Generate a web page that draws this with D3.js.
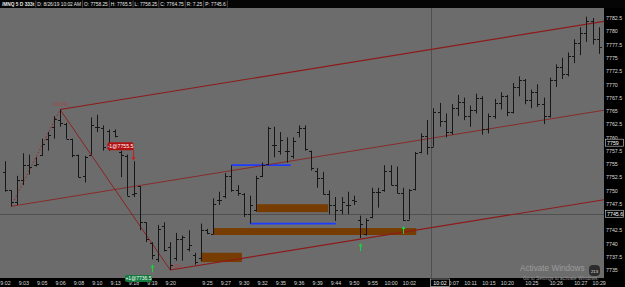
<!DOCTYPE html>
<html>
<head>
<meta charset="utf-8">
<script src="https://cdn.jsdelivr.net/npm/d3@7"></script>
<style>
  body { margin: 0; background: #000; }
  svg { display: block; font-family: "Liberation Sans", "DejaVu Sans", sans-serif; }
</style>
</head>
<body>
<svg id="chart" width="625" height="287"></svg>
<script>
// bar data (one entry per bar, 333 tick bars)
const opens = [
  7753.5, 7750.0, 7747.75, 7752.0, 7754.75, 7754.75, 7756.75, 7759.75, 7762.0, 7763.25,
  7762.5, 7759.75, 7756.75, 7752.75, 7756.75, 7762.0, 7761.75, 7761.25, 7761.25, 7757.25,
  7756.5, 7749.25, 7750.75, 7744.0, 7740.0, 7737.0, 7743.25, 7739.25, 7737.25, 7740.75,
  7739.0, 7737.75, 7737.25, 7742.5, 7741.75, 7748.25, 7749.0, 7752.75, 7750.0, 7749.25,
  7745.5, 7746.25, 7752.75, 7755.0, 7758.5, 7757.5, 7757.5, 7756.5, 7761.0, 7761.75,
  7757.5, 7753.75, 7752.25, 7749.25, 7747.25, 7746.25, 7747.25, 7748.25, 7744.5, 7741.75,
  7745.0, 7749.75, 7750.0, 7753.75, 7751.0, 7749.5, 7744.5, 7750.25, 7757.25, 7760.25,
  7758.25, 7764.75, 7763.0, 7761.0, 7765.5, 7766.75, 7764.0, 7765.25, 7767.5, 7761.5,
  7764.0, 7766.5, 7767.75, 7764.75, 7769.5, 7770.75, 7767.0, 7768.5, 7766.25, 7764.0,
  7770.75, 7773.25, 7772.0, 7775.25, 7777.75, 7779.75, 7782.0, 7778.5
];
const highs = [
  7755.5, 7750.0, 7752.75, 7757.0, 7756.75, 7756.25, 7759.75, 7761.0, 7764.0, 7765.25,
  7762.75, 7759.75, 7756.75, 7756.5, 7763.75, 7764.25, 7762.25, 7761.5, 7761.5, 7757.5,
  7756.75, 7755.5, 7750.75, 7744.0, 7740.25, 7743.5, 7744.0, 7740.25, 7742.0, 7741.5,
  7742.5, 7738.25, 7743.75, 7742.75, 7748.5, 7749.75, 7753.25, 7754.75, 7751.0, 7749.5,
  7749.0, 7752.75, 7755.25, 7762.0, 7762.0, 7761.0, 7760.0, 7760.0, 7762.25, 7762.25,
  7757.5, 7754.25, 7753.5, 7750.0, 7748.75, 7748.75, 7749.75, 7749.0, 7745.25, 7744.75,
  7750.5, 7750.5, 7754.75, 7754.75, 7754.5, 7750.5, 7750.25, 7757.25, 7760.75, 7763.25,
  7765.5, 7766.5, 7764.5, 7766.25, 7768.0, 7767.5, 7766.0, 7768.25, 7767.75, 7764.5,
  7767.25, 7768.5, 7768.0, 7770.25, 7771.5, 7771.0, 7769.0, 7770.0, 7767.5, 7771.25,
  7773.75, 7775.0, 7776.0, 7778.5, 7780.75, 7782.75, 7782.5, 7780.75
];
const lows = [
  7749.75, 7747.0, 7747.25, 7751.0, 7753.0, 7754.5, 7756.5, 7757.5, 7759.75, 7762.0,
  7759.75, 7756.25, 7752.5, 7751.5, 7756.75, 7761.0, 7757.5, 7757.5, 7760.0, 7752.5,
  7749.0, 7748.75, 7742.5, 7740.25, 7737.0, 7736.5, 7738.5, 7735.0, 7736.75, 7736.75,
  7738.5, 7736.0, 7736.75, 7741.75, 7741.75, 7747.25, 7748.5, 7749.75, 7749.0, 7745.0,
  7743.75, 7746.0, 7752.5, 7754.75, 7756.25, 7756.75, 7755.25, 7756.0, 7760.0, 7757.5,
  7753.75, 7750.5, 7749.25, 7745.5, 7744.25, 7745.5, 7745.5, 7747.25, 7741.0, 7741.5,
  7744.75, 7746.75, 7749.75, 7751.0, 7749.5, 7744.25, 7744.5, 7750.0, 7757.0, 7756.75,
  7758.25, 7762.0, 7760.0, 7760.5, 7764.0, 7763.25, 7762.0, 7764.5, 7760.5, 7760.75,
  7763.5, 7765.25, 7764.0, 7764.5, 7767.75, 7766.25, 7765.5, 7765.75, 7762.5, 7763.75,
  7769.5, 7771.0, 7771.5, 7774.0, 7775.5, 7778.0, 7777.5, 7775.75
];
const closes = [
  7750.0, 7747.75, 7752.0, 7754.75, 7754.5, 7755.0, 7758.75, 7760.5, 7763.5, 7762.75,
  7759.75, 7756.75, 7752.5, 7756.25, 7762.25, 7762.0, 7758.25, 7758.5, 7760.25, 7756.75,
  7749.0, 7749.5, 7744.0, 7740.75, 7737.75, 7742.75, 7738.75, 7736.0, 7740.75, 7741.25,
  7739.75, 7736.5, 7742.5, 7742.0, 7747.5, 7748.25, 7752.75, 7750.0, 7749.5, 7745.5,
  7747.25, 7752.25, 7754.75, 7761.75, 7758.5, 7759.5, 7757.5, 7759.25, 7761.75, 7757.75,
  7754.25, 7752.25, 7749.25, 7747.25, 7746.25, 7747.75, 7747.25, 7748.0, 7743.75, 7744.5,
  7749.75, 7749.75, 7753.75, 7751.0, 7749.5, 7744.5, 7750.0, 7757.0, 7760.25, 7758.25,
  7764.75, 7763.0, 7761.0, 7765.5, 7766.75, 7764.0, 7765.25, 7767.5, 7761.5, 7764.0,
  7766.5, 7767.75, 7764.75, 7769.5, 7770.75, 7767.0, 7768.5, 7766.25, 7764.0, 7770.75,
  7773.25, 7772.0, 7775.25, 7777.75, 7779.75, 7782.0, 7778.5, 7777.0
];

// axis labels
const priceTicks = d3.range(7735, 7782.6, 2.5);
const timeTickBars = [0, 3, 6, 9, 12, 15, 18, 21, 24, 27, 33, 36, 39, 42, 45, 48, 51, 54, 57, 60, 63, 66, 70, 73, 76, 79, 82, 86, 90, 94, 97];
const timeTickLabels = ["9:02", "9:03", "9:05", "9:06", "9:08", "9:10", "9:13", "9:18", "9:19", "9:20", "9:25", "9:27", "9:30", "9:32", "9:35", "9:36", "9:39", "9:44", "9:50", "9:55", "10:00", "10:02", "10:03", "10:07", "10:11", "10:15", "10:20", "10:25", "10:26", "10:27", "10:29"];

// header info
const headerItems = ["/MNQ 5 D 333t", "D: 8/26/19 10:02 AM", "O: 7758.25", "H: 7765.5", "L: 7758.25", "C: 7764.75", "R: 7.25", "P: 7745.6"];

// drawing objects
const channelSlope = 0.187;                 // points per bar
const channelAnchors = [[9, 7765.25], [1, 7747.0], [27, 7735.0]];
const fibPoints = [[1, 7747.0], [9, 7765.25], [27, 7735.0]];
const zoneStart = [32, 34, 41.2];
const zoneEnd = [38.7, 67.2, 52.8];
const zoneTop = [7738.25, 7742.9, 7747.4];
const zoneBottom = [7736.5, 7741.6, 7745.9];
const levelStart = [37, 40];
const levelEnd = [46.7, 54.1];
const levelPrice = [7754.75, 7743.75];
const buyArrowBars = [24, 58, 65];
const sellArrowBar = 21;
const crossBar = 70, crossPrice = 7745.6, crossTime = "10:02";
const markerPrice = 7759;

const W = 625, H = 287;
const plotRight = 604, plotTop = 8, plotBottom = 278;

const svg = d3.select('#chart');

// scales: x is bar index, y is price
let x = d3.scaleLinear().domain([0, 97]).range([5, 5 + 97 * 6.12]);
let y = d3.scaleLinear().domain([7735, 7782.5]).range([270, 18]);

let crossX = Math.round(x(crossBar)) - 1.5;
let crossY = Math.round(y(crossPrice)) + 0.5;

// backgrounds
svg.append('rect').attr('width', W).attr('height', H).attr('fill', '#000');
svg.append('rect').attr('x', 0).attr('y', plotTop)
    .attr('width', plotRight).attr('height', plotBottom - plotTop).attr('fill', '#6c6c6c');

svg.append('clipPath').attr('id', 'plotClip')
    .append('rect').attr('x', 0).attr('y', plotTop).attr('width', plotRight).attr('height', plotBottom - plotTop);

let plot = svg.append('g').attr('clip-path', 'url(#plotClip)');

// crosshair
plot.append('line')
    .attr('x1', 0).attr('x2', plotRight)
    .attr('y1', crossY).attr('y2', crossY)
    .attr('stroke', '#505050').attr('stroke-width', 1);
plot.append('line')
    .attr('x1', crossX).attr('x2', crossX)
    .attr('y1', plotTop).attr('y2', plotBottom)
    .attr('stroke', '#505050').attr('stroke-width', 1);

// orange zones
plot.selectAll('rect.zone')
    .data(zoneStart.map((d, i) => i))
    .join('rect')
    .attr('class', 'zone')
    .attr('x', i => x(zoneStart[i]))
    .attr('y', i => y(zoneTop[i]))
    .attr('width', i => x(zoneEnd[i]) - x(zoneStart[i]))
    .attr('height', i => y(zoneBottom[i]) - y(zoneTop[i]))
    .attr('fill', '#773c02');

// blue levels
plot.selectAll('line.level')
    .data(levelStart.map((d, i) => i))
    .join('line')
    .attr('class', 'level')
    .attr('x1', i => x(levelStart[i])).attr('x2', i => x(levelEnd[i]))
    .attr('y1', i => y(levelPrice[i])).attr('y2', i => y(levelPrice[i]))
    .attr('stroke', '#1e3cff').attr('stroke-width', 1.8);

// channel lines, extended to the right edge
let lastBar = x.invert(plotRight + 2);
plot.selectAll('line.channel')
    .data(channelAnchors)
    .join('line')
    .attr('class', 'channel')
    .attr('x1', d => x(d[0])).attr('y1', d => y(d[1]))
    .attr('x2', x(lastBar)).attr('y2', d => y(d[1] + channelSlope * (lastBar - d[0])))
    .attr('stroke', '#8e1a1a')
    .attr('stroke-width', (d, i) => i === 1 ? 0.8 : 1.1);

// fib legs
plot.append('line')
    .attr('x1', x(fibPoints[0][0])).attr('y1', y(fibPoints[0][1]))
    .attr('x2', x(fibPoints[1][0])).attr('y2', y(fibPoints[1][1]))
    .attr('stroke', '#a02020').attr('stroke-width', 1).attr('stroke-dasharray', '1.5,2');
plot.append('line')
    .attr('x1', x(fibPoints[1][0])).attr('y1', y(fibPoints[1][1]))
    .attr('x2', x(fibPoints[2][0])).attr('y2', y(fibPoints[2][1]))
    .attr('stroke', '#8e1a1a').attr('stroke-width', 0.9);
plot.append('text')
    .attr('x', x(fibPoints[1][0])).attr('y', y(fibPoints[1][1]) - 4)
    .attr('font-size', 4.5).attr('fill', '#a04545').attr('text-anchor', 'middle')
    .text('100.0%');
plot.append('text')
    .attr('x', x(fibPoints[2][0]) + 1).attr('y', y(fibPoints[2][1]) - 2.5)
    .attr('font-size', 4.5).attr('fill', '#a04545')
    .text('0.0%');

// OHLC bars
let bars = plot.selectAll('g.bar')
    .data(opens.map((d, i) => i))
    .join('g')
    .attr('class', 'bar')
    .attr('stroke', '#161616').attr('stroke-width', 1);

bars.append('line')
    .attr('x1', i => Math.round(x(i)) + 0.5).attr('x2', i => Math.round(x(i)) + 0.5)
    .attr('y1', i => y(highs[i])).attr('y2', i => y(lows[i]));
bars.append('line')
    .attr('x1', i => Math.round(x(i)) - 2).attr('x2', i => Math.round(x(i)) + 0.5)
    .attr('y1', i => Math.round(y(opens[i])) + 0.5).attr('y2', i => Math.round(y(opens[i])) + 0.5);
bars.append('line')
    .attr('x1', i => Math.round(x(i)) + 0.5).attr('x2', i => Math.round(x(i)) + 3)
    .attr('y1', i => Math.round(y(closes[i])) + 0.5).attr('y2', i => Math.round(y(closes[i])) + 0.5);

// buy arrows (green, below the bar low)
buyArrowBars.forEach(function (b) {
    let cx = Math.round(x(b)) + 0.5;
    let top = y(lows[b]) + 5;
    plot.append('path')
        .attr('d', `M${cx - 2},${top + 3} L${cx},${top} L${cx + 2},${top + 3} Z`)
        .attr('fill', '#19d43a');
    plot.append('line')
        .attr('x1', cx).attr('x2', cx).attr('y1', top + 2).attr('y2', top + 8)
        .attr('stroke', '#19d43a').attr('stroke-width', 1);
});

// sell marker (red tag and arrow above the bar high)
let sx = Math.round(x(sellArrowBar)) - 0.5;
let sy = y(highs[sellArrowBar]);
plot.append('line')
    .attr('x1', sx).attr('x2', sx).attr('y1', sy - 12).attr('y2', sy - 3)
    .attr('stroke', '#c81414').attr('stroke-width', 0.8);
plot.append('path')
    .attr('d', `M${sx - 2},${sy - 4} L${sx},${sy - 1} L${sx + 2},${sy - 4} Z`)
    .attr('fill', '#d01818');
plot.append('rect')
    .attr('x', sx - 26).attr('y', sy - 19).attr('width', 26).attr('height', 8).attr('rx', 2)
    .attr('fill', '#b01010');
plot.append('text')
    .attr('x', sx - 13).attr('y', sy - 13).attr('text-anchor', 'middle')
    .attr('font-size', 5.2).attr('fill', '#fff')
    .text('-1@7755.5');

// right price axis (the label under the crosshair box is hidden, as on screen)
let shownPrices = priceTicks.filter(p => Math.abs(y(p) - crossY) > 5);
svg.append('g')
    .attr('transform', `translate(${plotRight},0)`)
    .call(d3.axisRight(y).tickValues(shownPrices).tickSize(0)
        .tickFormat(d => d % 1 === 0 ? d3.format('d')(d) : d3.format('.1f')(d)))
    .call(g => g.select('.domain').remove())
    .call(g => g.selectAll('text')
        .attr('x', 2).attr('font-size', 5.3).attr('fill', '#d8d8d8')
        .attr('font-family', '"Liberation Sans", sans-serif'));

// price boxes
[[markerPrice, '7759'], [crossPrice, '7745.6']].forEach(function (p) {
    let py = y(p[0]);
    svg.append('rect')
        .attr('x', plotRight + 1.5).attr('y', py - 3.5).attr('width', 18).attr('height', 7)
        .attr('fill', '#000').attr('stroke', '#cfcfcf').attr('stroke-width', 0.6);
    svg.append('text')
        .attr('x', plotRight + 3).attr('y', py + 2)
        .attr('font-size', 5.3).attr('fill', '#fff').text(p[1]);
});

// bottom time axis (the label under the crosshair box is hidden)
let shownBars = timeTickBars.filter(b => Math.abs(x(b) - crossX) > 12 || b === crossBar - 4);
svg.append('g')
    .attr('transform', `translate(0,${plotBottom})`)
    .call(d3.axisBottom(x).tickValues(shownBars).tickSize(0)
        .tickFormat(d => timeTickLabels[timeTickBars.indexOf(d)]))
    .call(g => g.select('.domain').remove())
    .call(g => g.selectAll('text')
        .attr('y', 3).attr('font-size', 5.3).attr('fill', '#d8d8d8')
        .attr('font-family', '"Liberation Sans", sans-serif'));

// crosshair time box
svg.append('rect')
    .attr('x', crossX - 1).attr('y', plotBottom + 1).attr('width', 19).attr('height', 7.5)
    .attr('fill', '#000').attr('stroke', '#cfcfcf').attr('stroke-width', 0.6);
svg.append('text')
    .attr('x', crossX + 8.5).attr('y', plotBottom + 7).attr('text-anchor', 'middle')
    .attr('font-size', 5.3).attr('fill', '#fff').text(crossTime);

// green entry tag at the bottom
let gx = Math.round(x(buyArrowBars[0]));
svg.append('rect')
    .attr('x', gx - 27).attr('y', plotBottom - 3).attr('width', 27).attr('height', 7).attr('rx', 2)
    .attr('fill', '#127a3c');
svg.append('text')
    .attr('x', gx - 13.5).attr('y', plotBottom + 2).attr('text-anchor', 'middle')
    .attr('font-size', 5).attr('fill', '#fff').text('+1@7736.5');

// header bar
svg.append('rect').attr('width', W).attr('height', plotTop).attr('fill', '#050505');
let hx = 2;
headerItems.forEach(function (t, i) {
    let txt = svg.append('text')
        .attr('x', hx).attr('y', 6)
        .attr('font-size', 4.8).attr('fill', '#e6e6e6')
        .attr('font-weight', i === 0 ? 'bold' : 'normal')
        .text(t);
    let w = txt.node().getComputedTextLength();
    hx += w + 3;
    svg.append('line')
        .attr('x1', hx - 1.5).attr('x2', hx - 1.5).attr('y1', 0.5).attr('y2', 7.5)
        .attr('stroke', '#8a8a8a').attr('stroke-width', 0.5);
});

// windows watermark
svg.append('text')
    .attr('x', 520).attr('y', 271).attr('font-size', 8.2).attr('fill', '#9c9c9c')
    .text('Activate Windows');
svg.append('text')
    .attr('x', 523).attr('y', 279.5).attr('font-size', 4.8).attr('fill', '#9c9c9c')
    .text('Go to Settings to activate Windows.');
svg.append('rect')
    .attr('x', 589).attr('y', 265).attr('width', 11).attr('height', 11).attr('rx', 4)
    .attr('fill', '#2c2c2c');
svg.append('text')
    .attr('x', 594.5).attr('y', 273).attr('text-anchor', 'middle')
    .attr('font-size', 4.2).attr('fill', '#e0e0e0').text('213');
</script>
</body>
</html>
